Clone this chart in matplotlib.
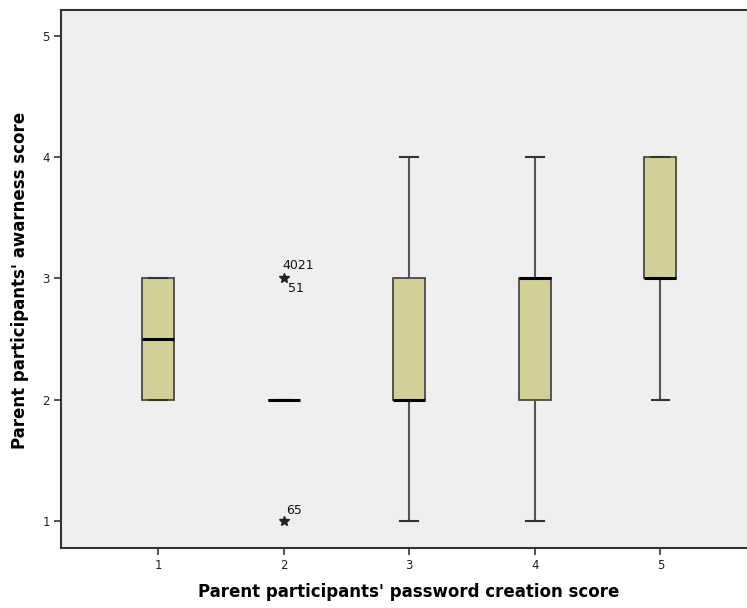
import matplotlib
matplotlib.use("Agg")
import matplotlib.pyplot as plt

# Box-plot summary per password creation score
categories = [1, 2, 3, 4, 5]
whisker_low = [2, 2, 1, 1, 2]
q1 = [2, 2, 2, 2, 3]
median = [2.5, 2, 2, 3, 3]
q3 = [3, 2, 3, 3, 4]
whisker_high = [3, 2, 4, 4, 4]

# Extreme values (category, value, case labels)
extreme_cat = [2, 2]
extreme_val = [3, 1]
extreme_labels = [["4021", "51"], ["65"]]

x_ticks = [1, 2, 3, 4, 5]
y_ticks = [1, 2, 3, 4, 5]

fig = plt.figure(figsize=(7.47, 6.08), dpi=100)
fig.patch.set_facecolor("white")
ax = fig.add_axes([61 / 747, 1 - 548 / 608, (747 - 61) / 747, (548 - 10) / 608])
ax.set_facecolor("#efefef")

stats = []
for i, c in enumerate(categories):
    stats.append(dict(med=median[i], q1=q1[i], q3=q3[i],
                      whislo=whisker_low[i], whishi=whisker_high[i],
                      fliers=[], label=str(c)))

ax.bxp(stats, positions=categories, widths=0.255, capwidths=0.14,
       patch_artist=True, showfliers=False,
       boxprops=dict(facecolor="#d3cf98", edgecolor="#4a4a40", linewidth=1.3),
       medianprops=dict(color="black", linewidth=2.2),
       whiskerprops=dict(color="#555555", linewidth=1.5),
       capprops=dict(color="#333333", linewidth=1.5))

ax.plot(extreme_cat, extreme_val, linestyle="none", marker="*",
        color="#222222", markersize=7)
for c, v, labs in zip(extreme_cat, extreme_val, extreme_labels):
    if len(labs) == 2:
        ax.text(c - 0.01, v + 0.05, labs[0], fontsize=9, ha="left", va="bottom",
                color="#111111")
        ax.text(c + 0.035, v - 0.03, labs[1], fontsize=9, ha="left", va="top",
                color="#111111")
    else:
        ax.text(c + 0.02, v + 0.03, labs[0], fontsize=9, ha="left", va="bottom",
                color="#111111")

ax.set_xlim(0.227, 5.69)
ax.set_ylim(0.777, 5.214)
ax.set_xticks(x_ticks)
ax.set_xticklabels([str(t) for t in x_ticks])
ax.set_yticks(y_ticks)
ax.set_yticklabels([str(t) for t in y_ticks])
ax.tick_params(axis="both", labelsize=8.5, length=5, width=1.2, color="#333333",
               labelcolor="#222222", pad=3)

for side in ["left", "bottom", "top"]:
    ax.spines[side].set_color("#333333")
    ax.spines[side].set_linewidth(1.5)
ax.spines["right"].set_visible(False)

ax.set_xlabel("Parent participants' password creation score", fontsize=12,
              fontweight="bold", family="DejaVu Sans", va="center")
ax.set_ylabel("Parent participants' awarness score", fontsize=12,
              fontweight="bold", family="DejaVu Sans", va="center")
ax.xaxis.set_label_coords((409 - 61) / 686, (548 - 592) / 538)
ax.yaxis.set_label_coords((20 - 61) / 686, (548 - 280) / 538)

fig.savefig("out.png", dpi=100)
